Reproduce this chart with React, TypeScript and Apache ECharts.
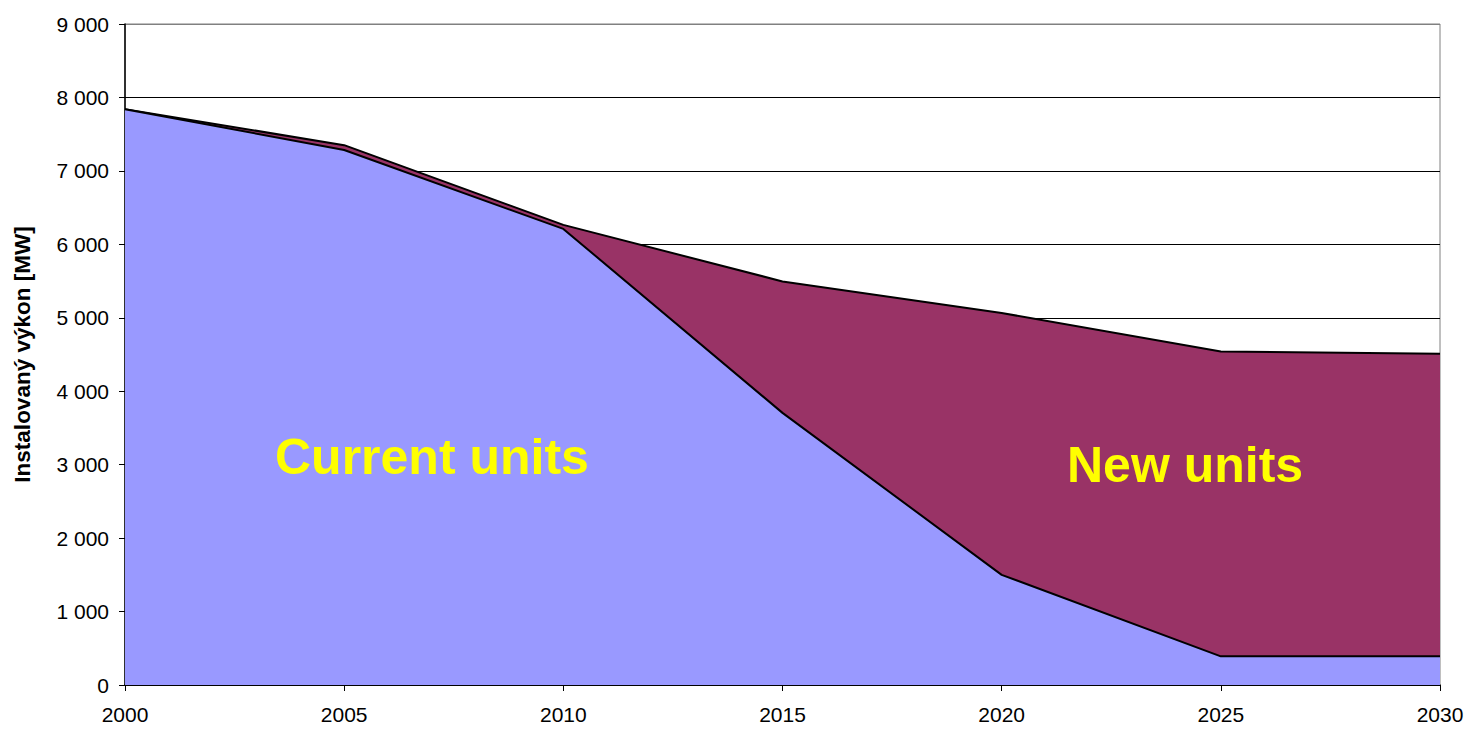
import React, { useEffect, useRef } from "react";
import * as echarts from "echarts";

const years = ["2000", "2005", "2010", "2015", "2020", "2025", "2030"];
const currentUnits = [7840, 7285, 6210, 3705, 1500, 390, 390];
const newUnits = [0, 65, 55, 1790, 3565, 4150, 4120];
const yTicks = [0, 1000, 2000, 3000, 4000, 5000, 6000, 7000, 8000, 9000];

const fmt = (v: number) => {
  const s = String(v);
  return s.length > 3 ? s.slice(0, s.length - 3) + " " + s.slice(-3) : s;
};

const FONT = "Liberation Sans, Arial, sans-serif";

export default function App() {
  const ref = useRef<HTMLDivElement>(null);
  useEffect(() => {
    const chart = echarts.init(ref.current!, null, { renderer: "svg" });
    const gridColors = yTicks.map((t, i) => (i === yTicks.length - 1 ? "#808080" : "#000000"));
    chart.setOption({
      animation: false,
      backgroundColor: "#ffffff",
      textStyle: { fontFamily: FONT },
      grid: {
        left: 125,
        right: 28,
        top: 24,
        bottom: 44,
        show: true,
        borderColor: "#808080",
        borderWidth: 1,
      },
      xAxis: {
        type: "category",
        data: years,
        boundaryGap: false,
        axisLine: { lineStyle: { color: "#000", width: 1.5 } },
        axisTick: { show: true, length: 6, lineStyle: { color: "#000" } },
        axisLabel: { color: "#000", fontSize: 21, margin: 19, fontFamily: FONT },
        splitLine: { show: false },
      },
      yAxis: {
        type: "value",
        min: 0,
        max: 9000,
        interval: 1000,
        name: "Instalovaný výkon [MW]",
        nameLocation: "middle",
        nameGap: 91,
        nameTextStyle: { color: "#000", fontSize: 22.5, fontWeight: "bold", fontFamily: FONT },
        axisLine: { show: true, lineStyle: { color: "#000", width: 1.5 } },
        axisTick: { show: true, length: 6, lineStyle: { color: "#000" } },
        axisLabel: { color: "#000", fontSize: 21, margin: 16, fontFamily: FONT, formatter: (v: number) => fmt(v) },
        splitLine: { show: true, lineStyle: { color: gridColors, width: 1 } },
      },
      series: [
        {
          name: "Current units",
          type: "line",
          stack: "total",
          data: currentUnits,
          symbol: "none",
          lineStyle: { color: "#000", width: 2 },
          areaStyle: { color: "#9999FF", opacity: 1 },
          z: 3,
        },
        {
          name: "New units",
          type: "line",
          stack: "total",
          data: newUnits,
          symbol: "none",
          lineStyle: { color: "#000", width: 2 },
          areaStyle: { color: "#993366", opacity: 1 },
          z: 2,
        },
      ],
      graphic: [
        {
          type: "text",
          left: 275,
          top: 432,
          style: {
            text: "Current units",
            fill: "#FFFF00",
            font: "bold 50px " + FONT,
          },
          z: 100,
        },
        {
          type: "text",
          left: 1067,
          top: 440,
          style: {
            text: "New units",
            fill: "#FFFF00",
            font: "bold 50px " + FONT,
          },
          z: 100,
        },
      ],
    });
    return () => chart.dispose();
  }, []);
  return <div ref={ref} style={{ position: "fixed", left: 0, top: 0, width: 1468, height: 729 }} />;
}
